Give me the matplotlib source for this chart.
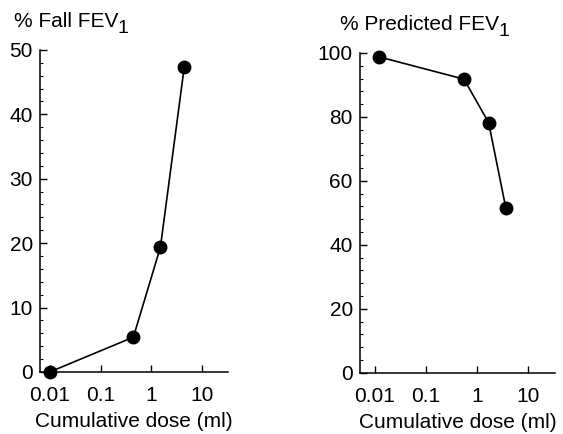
import numpy as np
import matplotlib
matplotlib.use("Agg")
import matplotlib.pyplot as plt
from matplotlib.ticker import FixedLocator, LogLocator, MultipleLocator, NullFormatter

plt.rcParams['font.family'] = ['Liberation Sans', 'DejaVu Sans']

# data
dose_fall = [0.01, 0.44, 1.5, 4.4]
fall_fev1 = [0, 5.4, 19.4, 47.3]

dose_pred = [0.012, 0.56, 1.7, 3.7]
pred_fev1 = [98.8, 91.8, 78.2, 51.4]

x_ticks = [0.01, 0.1, 1, 10]
x_ticklabels = ['0.01', '0.1', '1', '10']

fig = plt.figure(figsize=(5.63, 4.34), dpi=100)
ax1 = fig.add_axes([0.071, 0.143, 0.334, 0.742])
ax2 = fig.add_axes([0.639, 0.141, 0.347, 0.737])


def style(ax, xlim, ylim, ymajor, yminor, title, tx):
    ax.set_xscale('log')
    ax.set_xlim(*xlim)
    ax.set_ylim(*ylim)
    ax.xaxis.set_major_locator(FixedLocator(x_ticks))
    ax.set_xticklabels(x_ticklabels)
    ax.xaxis.set_minor_locator(LogLocator(base=10, subs=np.arange(2, 10)))
    ax.xaxis.set_minor_formatter(NullFormatter())
    ax.yaxis.set_major_locator(MultipleLocator(ymajor))
    ax.yaxis.set_minor_locator(MultipleLocator(yminor))
    ax.spines['top'].set_visible(False)
    ax.spines['right'].set_visible(False)
    for s in ('left', 'bottom'):
        ax.spines[s].set_linewidth(1.1)
    ax.tick_params(which='major', direction='in', length=5, width=1.0, labelsize=15, pad=10)
    ax.tick_params(axis='y', which='major', pad=5)
    ax.tick_params(which='minor', direction='in', length=2.5, width=0.8)
    ax.set_xlabel('Cumulative dose (ml)', fontsize=15, labelpad=5)
    t = ax.text(tx, 1.06, title, transform=ax.transAxes, fontsize=15, ha='left', va='bottom')
    # subscript 1, lowered next to the title
    ax.annotate('1', xy=(1, 0), xycoords=t, xytext=(-0.5, -4.5), textcoords='offset points',
                fontsize=14, ha='left', va='bottom')


ax1.plot(dose_fall, fall_fev1, color='black', lw=1.2, marker='o', ms=9, clip_on=False, zorder=3)
style(ax1, (0.0064, 32), (0, 50), 10, 2, '% Fall FEV', -0.14)

ax2.plot(dose_pred, pred_fev1, color='black', lw=1.2, marker='o', ms=9, clip_on=False, zorder=3)
style(ax2, (0.0051, 34), (0, 100), 20, 4, '% Predicted FEV', -0.1)

fig.savefig('out.png', dpi=100)
